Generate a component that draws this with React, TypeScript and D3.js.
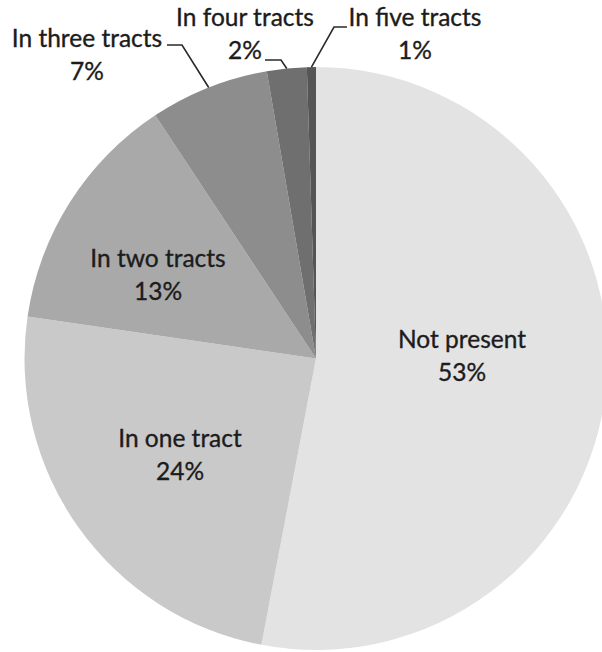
import React from "react";
import * as d3 from "d3";

const categories = ["Not present", "In one tract", "In two tracts", "In three tracts", "In four tracts", "In five tracts"];
const values = [53, 24.3, 13.4, 6.6, 2.2, 0.5];
const pctLabels = ["53%", "24%", "13%", "7%", "2%", "1%"];
const colors = ["#e3e3e3", "#c9c9c9", "#a9a9a9", "#8d8d8d", "#6f6f6f", "#555555"];

// label layout: center x, first-line baseline y, and optional leader elbow points
const labelLayout = [
  { x: 462, y: 348 },
  { x: 180, y: 447 },
  { x: 158, y: 267 },
  { x: 87, y: 46.5, leader: [[167, 45], [182, 45]] },
  { x: 245, y: 26, leader: [[265, 60], [281, 60]] },
  { x: 415, y: 26, leader: [[347, 27], [334, 27]] },
];

const W = 602;
const H = 652;
const cx = 316;
const cy = 358.5;
const R = 291.5;

export default function App() {
  const pie = d3.pie<number>().sort(null).value((d) => d)(values);
  const arc = d3.arc<d3.PieArcDatum<number>>().innerRadius(0).outerRadius(R);
  const fontFamily = "Lato, 'Open Sans', sans-serif";

  return (
    <svg
      width={W}
      height={H}
      style={{ position: "absolute", left: 0, top: 0, background: "#fff" }}
    >
      <g transform={`translate(${cx},${cy})`}>
        {pie.map((p, i) => (
          <path key={categories[i]} d={arc(p) || ""} fill={colors[i]} />
        ))}
      </g>
      {pie.map((p, i) => {
        const lay = labelLayout[i];
        if (!lay.leader) return null;
        const mid = (p.startAngle + p.endAngle) / 2;
        const ex = cx + R * Math.sin(mid);
        const ey = cy - R * Math.cos(mid);
        const pts = [...lay.leader, [ex, ey]];
        return (
          <polyline
            key={"l" + i}
            points={pts.map((q) => q.join(",")).join(" ")}
            fill="none"
            stroke="#2a2a2a"
            strokeWidth={1.6}
          />
        );
      })}
      {categories.map((c, i) => {
        const lay = labelLayout[i];
        return (
          <text
            key={"t" + i}
            textAnchor="middle"
            fontFamily={fontFamily}
            fontSize={24.5}
            fill="#1c1c1c"
            stroke="#1c1c1c"
            strokeWidth={0.35}
          >
            <tspan x={lay.x} y={lay.y}>{c}</tspan>
            <tspan x={lay.x} y={lay.y + 33}>{pctLabels[i]}</tspan>
          </text>
        );
      })}
    </svg>
  );
}
